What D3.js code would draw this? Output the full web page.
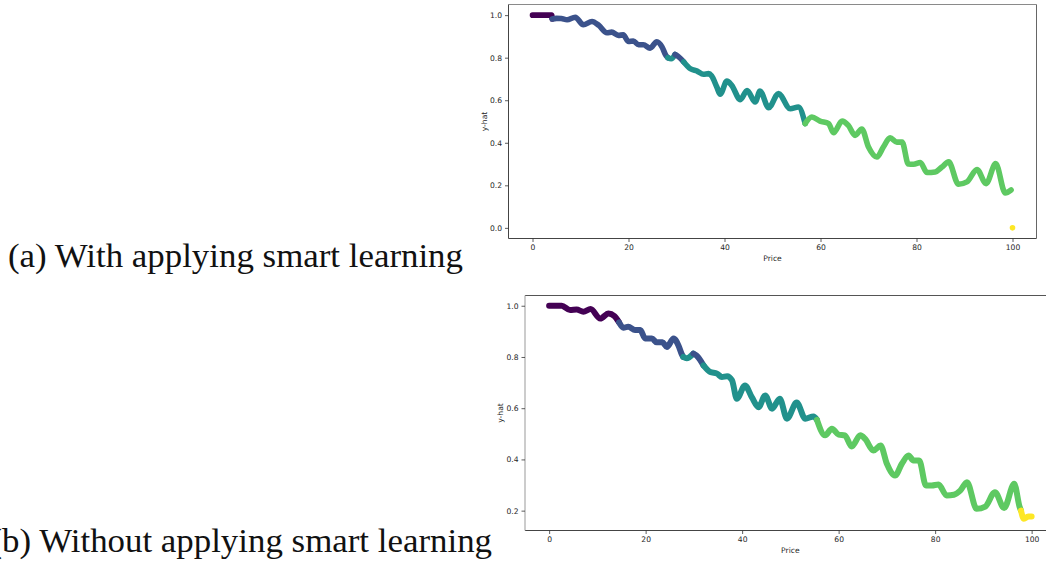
<!DOCTYPE html>
<html>
<head>
<meta charset="utf-8">
<script src="https://cdn.jsdelivr.net/npm/d3@7"></script>
<style>
  body { margin: 0; background: #fff; }
  svg { display: block; }
</style>
</head>
<body>
<svg id="fig" width="1046" height="572"></svg>
<script>
// viridis classes used to colour the predicted curve
const clusterColors = ["#440154", "#3b528b", "#21918c", "#5ec962", "#fde725"];

const xTicks = [0, 20, 40, 60, 80, 100];
const yTicksA = [0.0, 0.2, 0.4, 0.6, 0.8, 1.0];
const yTicksB = [0.2, 0.4, 0.6, 0.8, 1.0];

const captionA = "(a) With applying smart learning";
const captionB = "(b) Without applying smart learning";

// (a) with smart learning
const priceA = [0, 1, 2, 3, 4,
  4.1, 5, 6, 7.2, 8.9, 10.6, 12.4, 13.8, 15.5, 16.5, 17.9, 18.9, 20, 21, 22.1, 23.1, 24.5, 25.9, 27, 27.8,
  28.2, 28.9,
  29.7, 30.4,
  31.5, 32.9, 34.3, 35.6, 36.7, 37.3, 38.4, 39.1, 40.5, 41.5, 43.3, 44.7, 46.4, 47.4, 49.2, 51.25, 53.7, 55.4,
  56.8, 58.2, 59.9, 61.7, 62.7, 64.5, 65.8, 67.2, 68.6, 70, 71.75, 73.1, 74.5, 75.9, 77, 78.3, 79.4, 80.8, 82.2, 83.9, 85.3, 86.7, 88.75, 90.5, 92.6, 94.5, 96.5, 98.5, 99.7,
  100];
const yhatA = [1.0, 1.0, 1.0, 1.0, 1.0,
  0.982, 0.985, 0.984, 0.978, 0.99, 0.955, 0.97, 0.952, 0.917, 0.92, 0.905, 0.907, 0.876, 0.878, 0.861, 0.861, 0.845, 0.875, 0.85, 0.81,
  0.8, 0.795,
  0.815, 0.805,
  0.78, 0.748, 0.737, 0.722, 0.725, 0.715, 0.662, 0.628, 0.69, 0.67, 0.603, 0.646, 0.592, 0.643, 0.565, 0.631, 0.56, 0.568,
  0.49, 0.521, 0.502, 0.49, 0.447, 0.502, 0.482, 0.435, 0.465, 0.38, 0.333, 0.38, 0.423, 0.403, 0.403, 0.3, 0.299, 0.307, 0.26, 0.263, 0.286, 0.31, 0.205, 0.216, 0.274, 0.208, 0.302, 0.164, 0.178,
  0.0];
const clusterA = [0, 0, 0, 0, 0,
  1, 1, 1, 1, 1, 1, 1, 1, 1, 1, 1, 1, 1, 1, 1, 1, 1, 1, 1, 1,
  2, 2,
  1, 1,
  2, 2, 2, 2, 2, 2, 2, 2, 2, 2, 2, 2, 2, 2, 2, 2, 2, 2,
  3, 3, 3, 3, 3, 3, 3, 3, 3, 3, 3, 3, 3, 3, 3, 3, 3, 3, 3, 3, 3, 3, 3, 3, 3, 3, 3, 3, 3,
  4];

// (b) without smart learning
const priceB = [0, 1, 2.6, 4.35, 5.7, 7.1, 8.6, 10.6, 12.3, 13.5,
  14.5, 15.4, 16.4, 17.8, 18.9, 19.9, 21.3, 22.3, 23.5, 24.4, 25.8, 26.8, 27.5,
  27.8, 28.5,
  29.9, 30.6,
  32, 33.4, 34.8, 35.8, 36.9, 37.9, 38.9, 40.6, 42, 43.4, 44.8, 46.2, 47.8, 49.3, 51.3, 53.1, 54.8,
  55.5, 57.2, 58.6, 60, 61.3, 62.7, 64.5, 65.5, 67.2, 68.7, 70, 71.7, 73.1, 74.5, 75.5, 76.7, 78.1, 79.3, 80.7, 82.4, 83.9, 85.2, 86.6, 88.6, 90.4, 92.4, 94.3, 96.4, 97.5,
  97.8, 98.4, 99.3, 100];
const yhatB = [1.0, 1.0, 1.0, 0.983, 0.985, 0.977, 0.987, 0.95, 0.97, 0.96,
  0.935, 0.914, 0.918, 0.905, 0.905, 0.872, 0.872, 0.857, 0.857, 0.839, 0.872, 0.845, 0.81,
  0.8, 0.795,
  0.813, 0.805,
  0.767, 0.741, 0.735, 0.722, 0.725, 0.709, 0.637, 0.689, 0.643, 0.604, 0.65, 0.598, 0.637, 0.559, 0.622, 0.559, 0.568,
  0.555, 0.494, 0.52, 0.497, 0.494, 0.45, 0.494, 0.48, 0.435, 0.454, 0.383, 0.337, 0.383, 0.415, 0.396, 0.396, 0.298, 0.298, 0.302, 0.259, 0.262, 0.278, 0.311, 0.207, 0.216, 0.272, 0.21, 0.305, 0.215,
  0.2, 0.168, 0.177, 0.177];
const clusterB = [0, 0, 0, 0, 0, 0, 0, 0, 0, 0,
  1, 1, 1, 1, 1, 1, 1, 1, 1, 1, 1, 1, 1,
  2, 2,
  1, 1,
  2, 2, 2, 2, 2, 2, 2, 2, 2, 2, 2, 2, 2, 2, 2, 2, 2,
  3, 3, 3, 3, 3, 3, 3, 3, 3, 3, 3, 3, 3, 3, 3, 3, 3, 3, 3, 3, 3, 3, 3, 3, 3, 3, 3, 3, 3,
  4, 4, 4, 4];

const svg = d3.select("#fig");
const tickFont = "DejaVu Sans, sans-serif";
const tickColor = "#262626";

function drawPanel(opt) {
  const x = d3.scaleLinear().domain([-5, 105]).range([opt.left, opt.right]);
  const y = d3.scaleLinear().domain(opt.yDomain).range([opt.bottom, opt.top]);
  const g = svg.append("g");

  // clip to the axes area
  const clipId = "clip-" + opt.id;
  g.append("clipPath").attr("id", clipId)
    .append("rect").attr("x", opt.left).attr("y", opt.top)
    .attr("width", opt.right - opt.left).attr("height", opt.bottom - opt.top);

  // curve, split into runs of one class
  const pts = opt.price.map((p, i) => ({ p: p, v: opt.yhat[i], c: opt.cluster[i] }));
  const runs = [];
  pts.forEach(d => {
    const last = runs[runs.length - 1];
    if (last && last[0].c === d.c) last.push(d); else runs.push([d]);
  });
  const line = d3.line().x(d => x(d.p)).y(d => y(d.v)).curve(d3.curveMonotoneX);
  const plot = g.append("g").attr("clip-path", `url(#${clipId})`);
  runs.forEach((run, k) => {
    const seg = run.slice();
    const next = runs[k + 1];
    if (next) {
      const a = seg[seg.length - 1], b = next[0];
      // join neighbouring runs unless the next one jumps far away
      if (b.p > a.p && Math.abs(y(b.v) - y(a.v)) < 25) seg.push(b);
    }
    const col = clusterColors[run[0].c];
    if (seg.length === 1) {
      plot.append("circle").attr("cx", x(seg[0].p)).attr("cy", y(seg[0].v))
        .attr("r", opt.stroke / 2).attr("fill", col);
    } else {
      plot.append("path").attr("d", line(seg)).attr("fill", "none")
        .attr("stroke", col).attr("stroke-width", opt.stroke)
        .attr("stroke-linecap", "round").attr("stroke-linejoin", "round");
    }
  });

  // spines
  const sp = g.append("g").attr("fill", "none");
  sp.append("line").attr("x1", opt.left).attr("x2", opt.right).attr("y1", opt.top).attr("y2", opt.top)
    .attr("stroke", opt.spine.top).attr("stroke-width", 1);
  sp.append("line").attr("x1", opt.left).attr("x2", opt.right).attr("y1", opt.bottom).attr("y2", opt.bottom)
    .attr("stroke", opt.spine.bottom).attr("stroke-width", 1);
  sp.append("line").attr("x1", opt.left).attr("x2", opt.left).attr("y1", opt.top).attr("y2", opt.bottom)
    .attr("stroke", opt.spine.left).attr("stroke-width", opt.spine.leftW || 1);
  sp.append("line").attr("x1", opt.right).attr("x2", opt.right).attr("y1", opt.top).attr("y2", opt.bottom)
    .attr("stroke", opt.spine.right).attr("stroke-width", 1);

  // x axis
  const xa = g.append("g").attr("transform", `translate(0,${opt.bottom})`)
    .call(d3.axisBottom(x).tickValues(xTicks).tickFormat(d3.format("d")).tickSize(3.5).tickPadding(3));
  xa.select(".domain").remove();
  xa.selectAll("line").attr("stroke", "#333").attr("stroke-width", 0.8);
  xa.selectAll("text").attr("font-family", tickFont).attr("font-size", 7.6).attr("fill", tickColor);

  // y axis
  const ya = g.append("g").attr("transform", `translate(${opt.left},0)`)
    .call(d3.axisLeft(y).tickValues(opt.yTicks).tickFormat(d3.format(".1f")).tickSize(3.5).tickPadding(3));
  ya.select(".domain").remove();
  ya.selectAll("line").attr("stroke", "#333").attr("stroke-width", 0.8);
  ya.selectAll("text").attr("font-family", tickFont).attr("font-size", 7.6).attr("fill", tickColor);

  // axis titles
  g.append("text").attr("x", (opt.left + opt.right) / 2).attr("y", opt.xLabelY)
    .attr("text-anchor", "middle").attr("font-family", tickFont).attr("font-size", 7.6)
    .attr("fill", tickColor).text("Price");
  g.append("text")
    .attr("transform", `translate(${opt.yLabelX},${(opt.top + opt.bottom) / 2}) rotate(-90)`)
    .attr("text-anchor", "middle").attr("font-family", tickFont).attr("font-size", 7.6)
    .attr("fill", tickColor).text("y-hat");
}

drawPanel({
  id: "a", left: 508.5, right: 1036.5, top: 4.5, bottom: 238.5,
  yDomain: [-0.05, 1.05], yTicks: yTicksA,
  price: priceA, yhat: yhatA, cluster: clusterA, stroke: 5.6,
  spine: { top: "#8a8a8a", bottom: "#444", left: "#444", right: "#666" },
  xLabelY: 260.5, yLabelX: 486.5
});

drawPanel({
  id: "b", left: 525, right: 1055.75, top: 295.5, bottom: 530.5,
  yDomain: [0.1225, 1.04], yTicks: yTicksB,
  price: priceB, yhat: yhatB, cluster: clusterB, stroke: 6,
  spine: { top: "#555", bottom: "#444", left: "#aaa", right: "#666", leftW: 1.2 },
  xLabelY: 552.5, yLabelX: 502.5
});

// sub-figure captions
const capFont = "Liberation Serif, 'Times New Roman', serif";
svg.append("text").attr("x", 8).attr("y", 267)
  .attr("font-family", capFont).attr("font-size", 34).attr("fill", "#111")
  .attr("textLength", 455).attr("lengthAdjust", "spacingAndGlyphs").text(captionA);
svg.append("text").attr("x", -9.5).attr("y", 551.5)
  .attr("font-family", capFont).attr("font-size", 34).attr("fill", "#111")
  .attr("textLength", 501.5).attr("lengthAdjust", "spacingAndGlyphs").text(captionB);
</script>
</body>
</html>
